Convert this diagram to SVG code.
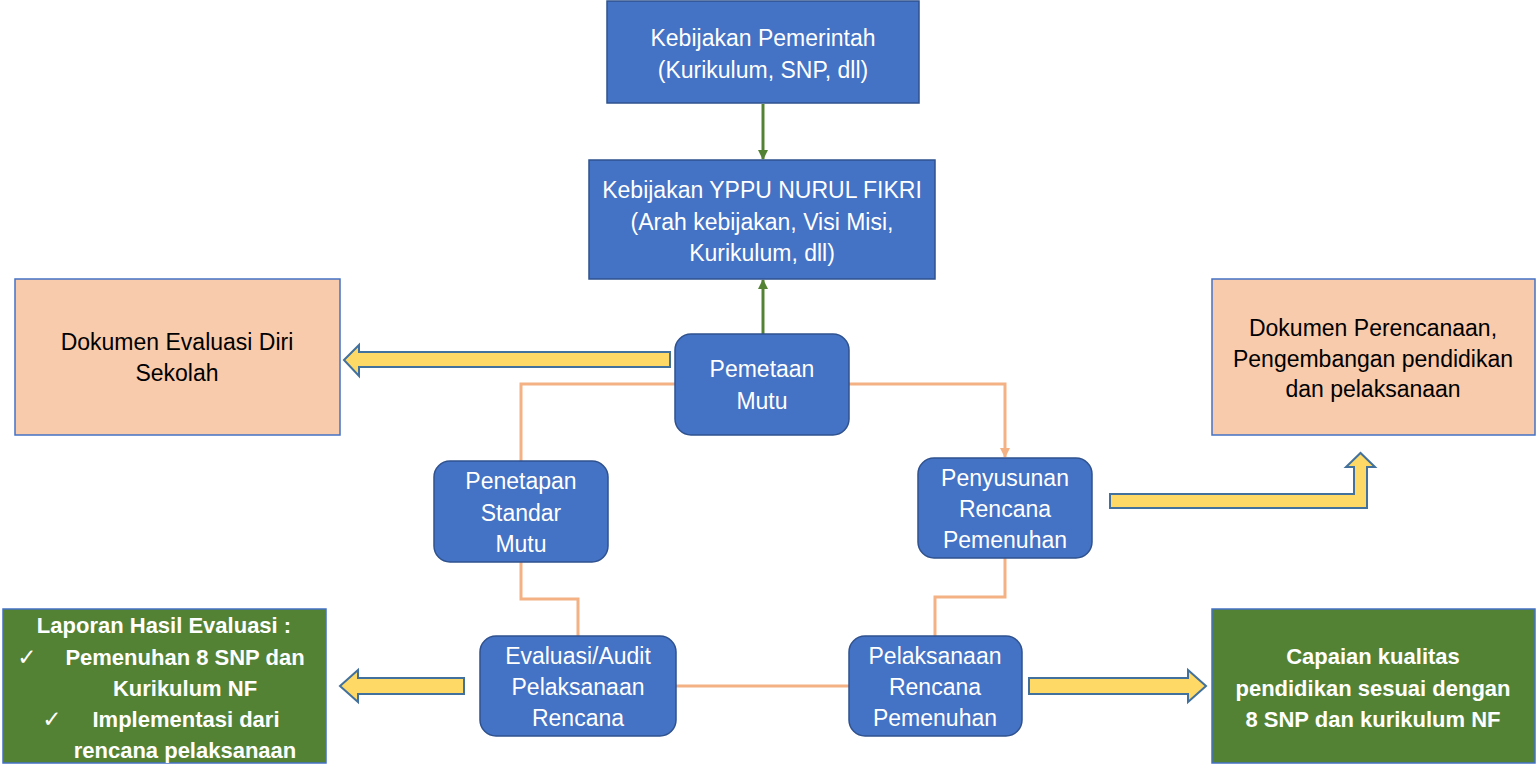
<svg xmlns="http://www.w3.org/2000/svg" width="1536" height="783" viewBox="0 0 1536 783">
<style>
.blue{fill:#4472C4;stroke:#2F528F;stroke-width:1.5}
.peach{fill:#F8CBAD;stroke:#4472C4;stroke-width:1.5}
.green{fill:#548235;stroke:#4472C4;stroke-width:1.5}
.t{font-family:"Liberation Sans",Arial,sans-serif;font-size:23px;fill:#FFFFFF;text-anchor:middle}
.tk{font-family:"Liberation Sans",Arial,sans-serif;font-size:23px;fill:#000000;text-anchor:middle}
.tb{font-family:"Liberation Sans",Arial,sans-serif;font-size:22px;font-weight:bold;fill:#FFFFFF;text-anchor:middle}
.chk{font-family:"DejaVu Sans",sans-serif;font-size:23px;fill:#FFFFFF;text-anchor:middle}
.oline{fill:none;stroke:#F4B183;stroke-width:3}
.gline{fill:none;stroke:#548235;stroke-width:3}
.block{fill:#FFD966;stroke:#41719C;stroke-width:2;stroke-linejoin:miter}
</style>
<defs>
<marker id="gArrow" markerWidth="10" markerHeight="10" refX="9" refY="5" orient="auto" markerUnits="userSpaceOnUse" viewBox="0 0 10 10">
<path d="M0,0 L10,5 L0,10 z" fill="#548235"/>
</marker>
<marker id="oArrow" markerWidth="10" markerHeight="10" refX="9" refY="5" orient="auto" markerUnits="userSpaceOnUse" viewBox="0 0 10 10">
<path d="M0,0 L10,5 L0,10 z" fill="#F4B183"/>
</marker>
</defs>
<rect width="1536" height="783" fill="#FFFFFF"/>

<g id="connectors">
<line class="gline" x1="763" y1="104" x2="763" y2="159" marker-end="url(#gArrow)"/>
<line class="gline" x1="763" y1="334" x2="763" y2="280" marker-end="url(#gArrow)"/>
<path class="oline" d="M676,384 H521 V461"/>
<path class="oline" d="M849,384 H1005 V457" marker-end="url(#oArrow)"/>
<path class="oline" d="M521,562 V599 H578 V636"/>
<path class="oline" d="M1005,558 V597 H935 V636"/>
<path class="oline" d="M676,686 H849"/>
<polygon class="block" points="344,360 359,345 359,352 670,352 670,367 359,367 359,376"/>
<polygon class="block" points="340,686 358,670 358,678 464,678 464,694 358,694 358,702"/>
<polygon class="block" points="1029,678 1188,678 1188,670 1206,686 1188,702 1188,694 1029,694"/>
<polygon class="block" points="1110,494 1354,494 1354,467 1346,467 1360.5,453 1375,467 1367,467 1367,508 1110,508"/>
</g>

<g id="kebijakan-pemerintah">
<rect class="blue" x="607" y="1" width="312" height="102"/>
<text class="t" x="763" y="46">Kebijakan Pemerintah</text>
<text class="t" x="763" y="78">(Kurikulum, SNP, dll)</text>
</g>

<g id="kebijakan-yppu">
<rect class="blue" x="589" y="160" width="346" height="119"/>
<text class="t" x="762" y="198">Kebijakan YPPU NURUL FIKRI</text>
<text class="t" x="762" y="230">(Arah kebijakan, Visi Misi,</text>
<text class="t" x="762" y="261">Kurikulum, dll)</text>
</g>

<g id="dokumen-evaluasi">
<rect class="peach" x="15" y="279" width="325" height="156"/>
<text class="tk" x="177" y="350">Dokumen Evaluasi Diri</text>
<text class="tk" x="177" y="381">Sekolah</text>
</g>

<g id="dokumen-perencanaan">
<rect class="peach" x="1212" y="279" width="323" height="156"/>
<text class="tk" x="1373" y="336">Dokumen Perencanaan,</text>
<text class="tk" x="1373" y="367">Pengembangan pendidikan</text>
<text class="tk" x="1373" y="397">dan pelaksanaan</text>
</g>

<g id="pemetaan-mutu">
<rect class="blue" x="675" y="334" width="174" height="101" rx="16" ry="16"/>
<text class="t" x="762" y="377">Pemetaan</text>
<text class="t" x="762" y="409">Mutu</text>
</g>

<g id="penetapan-standar">
<rect class="blue" x="434" y="461" width="174" height="101" rx="16" ry="16"/>
<text class="t" x="521" y="489">Penetapan</text>
<text class="t" x="521" y="521">Standar</text>
<text class="t" x="521" y="552">Mutu</text>
</g>

<g id="penyusunan-rencana">
<rect class="blue" x="918" y="458" width="174" height="100" rx="16" ry="16"/>
<text class="t" x="1005" y="486">Penyusunan</text>
<text class="t" x="1005" y="517">Rencana</text>
<text class="t" x="1005" y="548">Pemenuhan</text>
</g>

<g id="evaluasi-audit">
<rect class="blue" x="480" y="636" width="196" height="100" rx="16" ry="16"/>
<text class="t" x="578" y="664">Evaluasi/Audit</text>
<text class="t" x="578" y="695">Pelaksanaan</text>
<text class="t" x="578" y="726">Rencana</text>
</g>

<g id="pelaksanaan-rencana">
<rect class="blue" x="849" y="636" width="173" height="100" rx="16" ry="16"/>
<text class="t" x="935" y="664">Pelaksanaan</text>
<text class="t" x="935" y="695">Rencana</text>
<text class="t" x="935" y="726">Pemenuhan</text>
</g>

<g id="laporan-hasil">
<rect class="green" x="3" y="609" width="323" height="154"/>
<text class="tb" x="164" y="633">Laporan Hasil Evaluasi :</text>
<text class="chk" x="27" y="665">✓</text>
<text class="tb" x="185" y="665">Pemenuhan 8 SNP dan</text>
<text class="tb" x="185" y="696">Kurikulum NF</text>
<text class="chk" x="52" y="727">✓</text>
<text class="tb" x="186" y="727">Implementasi dari</text>
<text class="tb" x="185" y="758">rencana pelaksanaan</text>
</g>

<g id="capaian-kualitas">
<rect class="green" x="1212" y="609" width="323" height="154"/>
<text class="tb" x="1373" y="664">Capaian kualitas</text>
<text class="tb" x="1373" y="696">pendidikan sesuai dengan</text>
<text class="tb" x="1373" y="727">8 SNP dan kurikulum NF</text>
</g>
</svg>
